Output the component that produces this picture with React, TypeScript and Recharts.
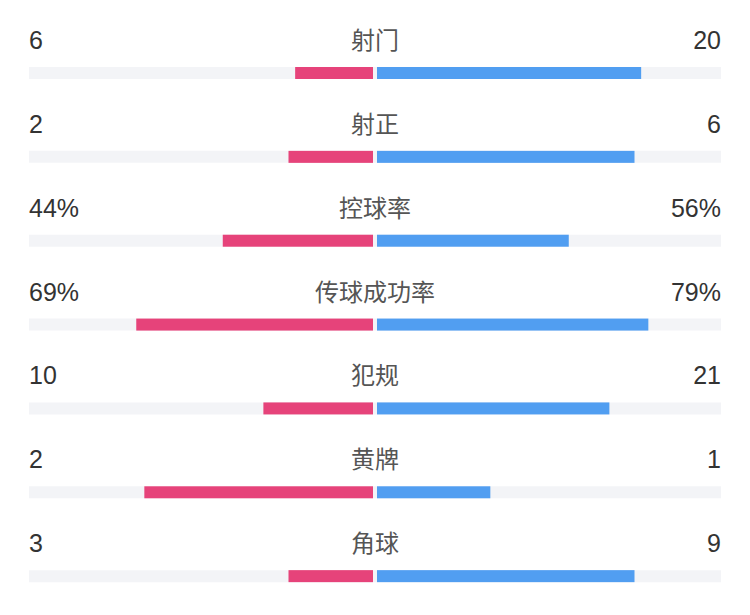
import React from 'react';
import { BarChart, Bar, XAxis, YAxis, LabelList } from 'recharts';

const categories = ['射门', '射正', '控球率', '传球成功率', '犯规', '黄牌', '角球'];
const homeValues = [6, 2, 44, 69, 10, 2, 3];
const awayValues = [20, 6, 56, 79, 21, 1, 9];
// rates are drawn as plain percentages, counts as a share of the total
const isPercent = [false, false, true, true, false, false, false];

const RED = '#e6437a';
const BLUE = '#519ef1';
const TRACK = '#f3f4f7';

const fmt = (v: number, pct: boolean) => (pct ? `${v}%` : `${v}`);

const data = categories.map((name, i) => {
    const h = homeValues[i];
    const a = awayValues[i];
    const home = isPercent[i] ? h / 100 : h / (h + a);
    const away = isPercent[i] ? a / 100 : a / (h + a);
    return { name, home: -home, away, homeLabel: fmt(h, isPercent[i]), awayLabel: fmt(a, isPercent[i]) };
});

// bars leave a small gap at the centre line
const HomeShape = (props: any) => {
    const { x, y, width, height, fill } = props;
    const left = Math.min(x, x + width);
    const w = Math.abs(width) - 2;
    if (w <= 0) return null;
    return <rect x={left} y={y} width={w} height={height} fill={fill} />;
};

const AwayShape = (props: any) => {
    const { x, y, width, height, fill } = props;
    const w = Math.abs(width) - 2;
    if (w <= 0) return null;
    return <rect x={x + 2} y={y} width={w} height={height} fill={fill} />;
};

const numFont = "'Liberation Sans', Arial, sans-serif";

const RowText = (props: any) => {
    const { y, height, index } = props;
    const row = data[index];
    if (!row) return null;
    const ty = y + height / 2 - 24;
    return (
        <g>
            <text x={29} y={ty} fill="#333" fontSize={25} fontFamily={numFont}>
                {row.homeLabel}
            </text>
            <text x={375} y={ty} textAnchor="middle" fill="#555" fontSize={24} fontFamily="'Noto Sans CJK SC', sans-serif">
                {row.name}
            </text>
            <text x={721} y={ty} textAnchor="end" fill="#333" fontSize={25} fontFamily={numFont}>
                {row.awayLabel}
            </text>
        </g>
    );
};

const App = () => {
    return (
        <div style={{ position: 'fixed', left: 0, top: 0, width: 750, height: 615, background: '#fff', overflow: 'hidden' }}>
            <BarChart
                width={750}
                height={620}
                data={data}
                layout="vertical"
                stackOffset="sign"
                barSize={12}
                margin={{ top: 31, right: 29, bottom: 2, left: 29 }}
            >
                <XAxis type="number" domain={[-1, 1]} hide />
                <YAxis type="category" dataKey="name" hide />
                <Bar
                    dataKey="home"
                    stackId="s"
                    fill={RED}
                    shape={<HomeShape />}
                    background={{ fill: TRACK }}
                    isAnimationActive={false}
                />
                <Bar dataKey="away" stackId="s" fill={BLUE} shape={<AwayShape />} isAnimationActive={false}>
                    <LabelList dataKey="name" content={<RowText />} />
                </Bar>
            </BarChart>
        </div>
    );
};

export default App;
